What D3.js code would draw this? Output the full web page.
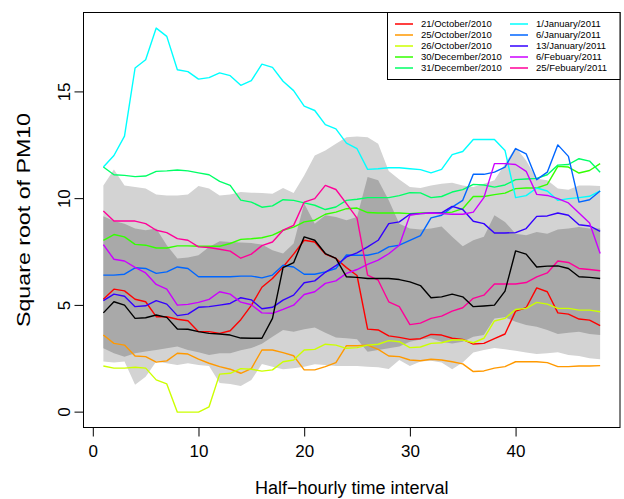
<!DOCTYPE html>
<html><head><meta charset="utf-8">
<script src="https://cdn.jsdelivr.net/npm/d3@7"></script>
<style>body{margin:0;background:#fff}svg{display:block}text{font-family:"Liberation Sans",Arial,sans-serif;fill:#000}</style>
</head><body><svg id="c" width="624" height="499"></svg>
<script>
const intervals = d3.range(1, 49);
const xTicks = [0, 10, 20, 30, 40];
const yTicks = [0, 5, 10, 15];
const seriesNames = ["21/October/2010","25/October/2010","26/October/2010","30/December/2010","31/December/2010","1/January/2011","6/January/2011","13/January/2011","6/Febuary/2011","25/Febuary/2011"];
const seriesColors = ["#FF0000","#FF9900","#CCFF00","#33FF00","#00FF66","#00FFFF","#0066FF","#3300FF","#CC00FF","#FF0099"];

const oct21 = [5.29,5.76,5.68,5.29,5.17,4.47,4.47,4.35,4.28,3.77, 3.77,3.69,3.81,4.33,5.0,5.85,6.26,6.8,7.4,8.05, 7.97,7.4,7.2,6.77,6.4,3.89,3.85,3.57,3.5,3.41, 3.44,3.64,3.61,3.46,3.41,3.19,3.22,3.44,3.66,4.73, 4.89,5.82,5.64,4.65,4.59,4.36,4.31,4.05];
const oct25 = [3.61,3.22,3.14,2.63,2.6,2.34,2.4,2.76,2.72,2.48, 2.29,2.13,2.01,1.82,2.04,2.91,2.91,2.79,2.64,1.98, 1.98,2.13,2.32,3.11,3.11,3.14,2.94,2.63,2.6,2.44, 2.41,2.48,2.44,2.36,2.26,1.9,1.93,2.06,2.13,2.36, 2.36,2.36,2.32,2.13,2.13,2.16,2.16,2.18];
const oct26 = [2.16,2.06,2.06,2.1,2.06,1.51,1.32,0,0,0, 0.25,1.78,1.82,2.04,2.01,1.92,1.98,2.36,2.44,2.91, 2.94,3.18,3.14,2.99,3.02,3.14,3.18,3.35,3.3,3.02, 3.05,3.22,3.25,3.38,3.38,3.25,3.46,4.27,4.39,4.81, 4.86,5.14,5.06,4.86,4.86,4.78,4.78,4.7];
const dec30 = [8.05,8.32,8.21,7.86,7.82,7.69,7.69,7.79,7.79,7.77, 7.77,7.77,7.9,8.09,8.12,8.17,8.29,8.52,8.67,8.91, 8.99,9.27,9.37,9.53,9.56,9.35,9.33,9.33,9.33,9.3, 9.33,9.33,9.33,9.37,9.53,10.1,10.1,10.19,10.26,10.47, 10.5,10.5,10.67,11.51,11.48,11.2,11.32,11.64];
const dec31 = [11.48,11.12,11.09,11.03,11.06,11.28,11.3,11.34,11.3,11.21, 11.12,10.81,10.62,9.93,9.84,9.6,9.66,9.95,9.92,9.8, 9.69,9.49,9.61,9.92,9.97,10.05,10.05,10.05,10.14,10.28, 10.27,10.05,10.1,10.31,10.42,10.67,10.64,10.54,10.64,10.89, 10.92,10.95,11.12,11.57,11.6,11.87,11.76,11.24];
const jan1 = [11.48,12.02,12.93,16.12,16.51,17.99,17.6,16.04,15.95,15.6, 15.67,15.89,15.76,15.31,15.53,16.3,16.15,15.5,15.06,14.33, 14.13,13.47,13.27,12.6,12.34,11.37,11.4,11.45,11.45,11.4, 11.36,11.21,11.37,12.06,12.21,12.77,12.77,12.77,12.26,10.05, 10.14,10.5,10.36,9.92,10.0,10.05,10.11,10.36];
const jan6 = [6.42,6.42,6.46,6.76,6.73,6.5,6.57,6.8,6.73,6.34, 6.34,6.34,6.34,6.37,6.37,6.29,6.42,6.88,6.8,6.46, 6.46,6.57,6.73,7.36,7.35,7.35,7.46,7.74,7.82,8.05, 8.27,9.1,9.22,9.6,9.92,11.14,11.14,11.24,11.48,12.34, 12.1,10.89,11.24,12.52,11.98,9.84,9.95,10.36];
const jan13 = [5.22,5.53,5.43,4.94,4.98,5.22,5.06,4.52,4.59,4.91, 4.94,5.01,5.09,5.36,5.26,4.84,4.91,5.25,5.48,6.06, 6.15,6.55,6.86,7.27,7.46,7.74,8.05,8.83,8.91,9.27, 9.3,9.33,9.33,9.64,9.49,8.94,8.83,8.39,8.39,8.41, 8.6,9.17,9.19,9.33,9.22,8.78,8.72,8.47];
const feb6 = [7.85,7.16,7.08,6.78,6.52,5.98,5.76,5.01,5.05,5.14, 5.28,5.64,5.53,5.15,5.03,4.65,4.63,4.81,5.01,5.51, 5.64,6.03,6.15,6.5,6.68,6.92,7.12,7.42,7.82,9.22, 9.3,9.33,9.3,9.27,9.27,9.37,10.05,11.64,11.64,11.6, 11.28,10.2,10.15,10.0,9.8,9.33,8.86,7.43];
const feb25 = [9.42,8.95,8.95,8.95,8.83,8.52,8.41,8.13,8.05,7.74, 7.71,7.63,7.54,7.21,7.4,7.8,7.97,8.52,8.75,9.84, 10.0,10.62,10.43,9.77,9.09,6.42,6.18,5.17,4.94,4.1, 4.17,4.39,4.5,4.73,4.89,5.33,5.48,6.0,6.0,6.0, 6.07,6.34,6.52,7.08,7.01,6.73,6.68,6.62];
const meanLine = [4.65,5.17,5.01,4.39,4.42,4.55,4.44,3.89,3.88,3.77, 3.69,3.66,3.61,3.47,3.46,3.46,4.39,6.77,7.0,8.21, 8.05,7.43,7.2,6.34,6.31,6.26,6.26,6.26,6.21,6.1, 5.93,5.36,5.4,5.53,5.4,4.94,4.97,5.01,5.67,7.55, 7.4,6.8,6.84,6.85,6.73,6.34,6.31,6.26];

const outerUpper = [10.62,11.36,10.62,10.54,10.47,10.2,10.15,10.15,10.19,10.59, 10.47,10.15,10.2,10.31,10.28,10.26,10.23,10.5,10.26,11.09, 12.02,12.26,12.57,12.88,12.91,12.88,12.57,11.3,10.9,10.55, 10.5,10.62,10.7,10.75,10.62,10.54,10.7,10.86,11.64,12.41, 11.79,10.93,10.86,10.47,10.42,10.62,10.62,10.59];
const outerLower = [2.37,2.32,2.37,1.28,1.66,2.37,2.29,2.21,2.29,2.21, 2.16,1.36,1.32,1.22,1.5,2.26,2.13,2.01,2.06,2.13, 2.24,2.21,2.16,2.16,2.16,2.13,2.1,2.02,2.44,2.16, 2.37,2.41,2.32,2.01,2.32,2.79,2.91,3.0,2.94,2.88, 2.79,2.72,2.76,2.8,2.68,2.63,2.52,2.48];
const innerUpper = [9.17,8.95,8.83,8.6,8.52,8.6,7.82,7.2,7.24,7.35, 7.74,8.0,7.97,7.95,7.92,7.85,7.58,7.43,7.9,9.77, 8.83,9.22,9.14,8.99,9.14,11.01,10.86,9.92,8.83,8.6, 8.56,8.6,8.69,8.21,7.77,8.05,8.21,9.22,8.91,8.36, 8.29,8.44,8.36,8.55,8.6,8.67,8.6,8.6];
const innerLower = [2.99,2.76,2.6,2.76,2.84,2.91,2.99,3.07,2.91,2.8, 2.68,2.76,2.76,2.9,3.0,3.2,3.53,3.85,3.77,3.88, 3.97,3.72,3.5,3.46,3.41,2.83,2.91,2.99,3.07,3.3, 3.4,3.46,3.3,3.22,3.3,3.53,3.61,4.39,4.44,4.23, 4.08,4.0,3.85,3.66,3.72,3.77,3.66,3.61];

const seriesValues = [oct21, oct25, oct26, dec30, dec31, jan1, jan6, jan13, feb6, feb25];

const svg = d3.select("#c");
const L = 83.5, R = 620, T = 12.5, B = 427.5;
const xmin = 1, xmax = 48, xp = (xmax - xmin) * 0.04;
const x = d3.scaleLinear().domain([xmin - xp, xmax + xp]).range([L, R]);
const ymin = 0, ymax = 18, yp = (ymax - ymin) * 0.04;
const y = d3.scaleLinear().domain([ymin - yp, ymax + yp]).range([B, T]);

const band = (lo, hi) => d3.area().x((d, i) => x(intervals[i])).y0((d, i) => y(lo[i])).y1((d, i) => y(hi[i]));
svg.append("path").attr("d", band(outerLower, outerUpper)(intervals)).attr("fill", "#D3D3D3");
svg.append("path").attr("d", band(innerLower, innerUpper)(intervals)).attr("fill", "#A9A9A9");

const line = d3.line().x((d, i) => x(intervals[i])).y(d => y(d));
seriesValues.forEach((vals, k) => {
  svg.append("path").attr("d", line(vals)).attr("fill", "none").attr("stroke", seriesColors[k]).attr("stroke-width", 1.4).attr("stroke-linejoin", "round");
});
svg.append("path").attr("d", line(meanLine)).attr("fill", "none").attr("stroke", "#000").attr("stroke-width", 1.4).attr("stroke-linejoin", "round");

// box
svg.append("rect").attr("x", L).attr("y", T).attr("width", R - L).attr("height", B - T).attr("fill", "none").attr("stroke", "#000").attr("stroke-width", 1);

// axes
const xAxis = svg.append("g").attr("transform", `translate(0,${B})`)
  .call(d3.axisBottom(x).tickValues(xTicks).tickSize(9).tickPadding(8).tickFormat(d3.format("d")));
xAxis.select(".domain").attr("d", `M${x(xTicks[0])},0H${x(xTicks[xTicks.length-1])}`);
xAxis.selectAll("text").style("font-size", "17px").style("font-family", "Liberation Sans, Arial, sans-serif");

const yAxis = svg.append("g").attr("transform", `translate(${L},0)`)
  .call(d3.axisLeft(y).tickValues(yTicks).tickSize(9).tickFormat(d3.format("d")));
yAxis.select(".domain").attr("d", `M0,${y(yTicks[0])}V${y(yTicks[yTicks.length-1])}`);
yAxis.selectAll("text").attr("x", null).attr("dy", null).attr("text-anchor", "middle")
  .attr("transform", d => `translate(-14,${y(d)}) rotate(-90)`).attr("y", 0)
  .style("font-size", "17px").style("font-family", "Liberation Sans, Arial, sans-serif");
yAxis.selectAll(".tick").attr("transform", null);
yAxis.selectAll(".tick line").attr("transform", d => `translate(0,${y(d)})`);

svg.append("text").attr("x", (L + R) / 2).attr("y", 494).attr("text-anchor", "middle").style("font-size", "18px").text("Half\u2212hourly time interval");
svg.append("text").attr("transform", `translate(30,${(T + B) / 2}) rotate(-90)`).attr("text-anchor", "middle")
  .attr("textLength", 214).attr("lengthAdjust", "spacingAndGlyphs").style("font-size", "19px").text("Square root of PM10");

// legend
const lg = svg.append("g");
lg.append("rect").attr("x", 387.5).attr("y", T).attr("width", R - 387.5).attr("height", 67).attr("fill", "#fff").attr("stroke", "#000").attr("stroke-width", 1);
seriesNames.forEach((name, k) => {
  const col = Math.floor(k / 5), row = k % 5;
  const lx = col === 0 ? 395 : 510, ty = 24 + row * 11;
  lg.append("line").attr("x1", lx).attr("x2", lx + 18).attr("y1", ty).attr("y2", ty).attr("stroke", seriesColors[k]).attr("stroke-width", 1.5);
  lg.append("text").attr("x", lx + 26).attr("y", ty).attr("dy", "0.35em").style("font-size", "9.5px").text(name);
});
</script></body></html>
